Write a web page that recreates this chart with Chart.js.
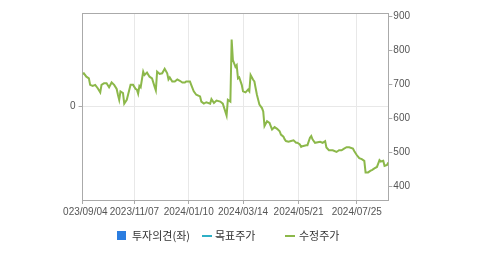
<!DOCTYPE html>
<html><head><meta charset="utf-8">
<script src="https://cdn.jsdelivr.net/npm/chart.js@4"></script>
<style>
html,body{margin:0;padding:0;background:#fff;width:479px;height:255px;overflow:hidden;position:relative}
#wrap{position:absolute;left:63px;top:0;width:416px;height:255px}
.lt{position:absolute;font:11px "Noto Sans CJK KR",sans-serif;color:#333;line-height:14px;top:228px;white-space:nowrap}
.sw{position:absolute}
</style></head><body>
<div id="wrap"><canvas id="c" width="416" height="255"></canvas></div>
<div class="sw" style="left:117px;top:231px;width:9px;height:9px;background:#2b7de0"></div>
<div class="lt" id="l0" style="left:132px"></div>
<div class="sw" style="left:202px;top:235px;width:10px;height:2px;background:#2fb0c6"></div>
<div class="lt" id="l1" style="left:215px"></div>
<div class="sw" style="left:285px;top:235px;width:10px;height:2px;background:#8cb84a"></div>
<div class="lt" id="l2" style="left:299px"></div>
<script>
const seriesNames = ['투자의견(좌)', '목표주가', '수정주가'];
const tickIndex = [0, 41, 84, 127, 171, 217];
const tickLabels = ['2023/09/04', '2023/11/07', '2024/01/10', '2024/03/14', '2024/05/21', '2024/07/25'];
const rightTicks = [400, 500, 600, 700, 800, 900];
const opinion = [];
const target = [];
const dayIndex = [0,1,3,5,6,8,10,12,14,15,17,19,21,23,25,27,28,29,30,32,33,35,36,38,40,42,43,44,45,46,48,49,51,53,55,57,58,59,61,63,65,67,68,69,71,73,75,77,79,81,82,85,86,88,90,93,94,96,98,101,102,104,106,109,111,114,115,117,118,119,121,122,123,124,126,127,129,131,132,133,135,136,137,138,140,142,143,144,146,148,150,152,154,156,157,159,160,161,163,165,167,169,170,172,173,174,177,178,180,181,182,184,188,190,192,193,195,198,201,203,205,207,209,211,214,215,217,219,221,223,224,226,228,229,231,233,234,235,236,238,239,241,242];
const price = [731,733,723,718,699,696,699,689,677,699,704,704,692,706,699,687,670,655,680,675,644,655,670,699,699,687,685,673,696,692,738,728,735,723,718,694,683,738,731,733,746,733,715,721,709,709,715,711,706,706,709,709,699,680,670,665,650,644,648,644,657,646,653,650,644,609,655,650,832,772,752,757,718,721,699,680,677,685,680,728,714,709,689,670,641,631,621,578,592,587,568,575,570,563,553,547,539,534,532,534,536,529,529,524,517,519,522,522,544,549,539,529,532,529,534,515,507,507,502,507,507,512,516,516,512,505,493,484,481,476,442,442,447,449,454,458,468,478,474,476,461,464,471];

seriesNames.forEach((n, i) => { document.getElementById('l' + i).textContent = n; });

const axisFont = { family: '"Liberation Sans", Arial, sans-serif', size: 10 };
const axisColor = '#555';
const borderColor = '#aaaaaa';
const gridColor = '#e8e8e8';

const topBorder = {
  id: 'topBorder',
  afterDraw(chart) {
    const a = chart.chartArea, ctx = chart.ctx;
    ctx.save();
    ctx.strokeStyle = borderColor;
    ctx.lineWidth = 1;
    ctx.beginPath();
    ctx.moveTo(a.left, Math.round(a.top) + 0.5);
    ctx.lineTo(a.right, Math.round(a.top) + 0.5);
    ctx.stroke();
    ctx.restore();
  }
};

new Chart(document.getElementById('c'), {
  type: 'line',
  data: {
    datasets: [
      { label: seriesNames[0], data: opinion, yAxisID: 'y', borderColor: '#2b7de0', backgroundColor: '#2b7de0' },
      { label: seriesNames[1], data: target, yAxisID: 'y1', borderColor: '#2fb0c6' },
      { label: seriesNames[2], data: dayIndex.map((d, i) => ({ x: d, y: price[i] })), yAxisID: 'y1',
        borderColor: '#8cb84a', borderWidth: 2, pointRadius: 0, tension: 0, fill: false }
    ]
  },
  options: {
    responsive: false,
    animation: false,
    layout: { padding: { left: 4, right: 68, top: 13, bottom: 35 } },
    plugins: { legend: { display: false }, tooltip: { enabled: false } },
    scales: {
      x: {
        type: 'linear', min: 0, max: 242,
        afterBuildTicks: s => { s.ticks = tickIndex.map(v => ({ value: v })); },
        afterFit: s => { s.paddingLeft = 0; s.paddingRight = 0; },
        ticks: { autoSkip: false, maxRotation: 0, font: axisFont, color: axisColor, padding: 2,
          callback: (v, i) => tickLabels[i] },
        grid: { color: gridColor, tickColor: borderColor, tickLength: 4 },
        border: { color: borderColor }
      },
      y: {
        position: 'left', min: -1, max: 1,
        afterBuildTicks: s => { s.ticks = [{ value: 0 }]; },
        ticks: { font: axisFont, color: axisColor, padding: 3 },
        grid: { color: gridColor, tickColor: borderColor, tickLength: 4 },
        border: { color: borderColor }
      },
      y1: {
        position: 'right', min: 361, max: 910,
        afterBuildTicks: s => { s.ticks = rightTicks.map(v => ({ value: v })); },
        ticks: { font: axisFont, color: axisColor, padding: 1 },
        grid: { drawOnChartArea: false, tickColor: borderColor, tickLength: 4 },
        border: { color: borderColor }
      }
    }
  },
  plugins: [topBorder]
});
</script>
</body></html>
